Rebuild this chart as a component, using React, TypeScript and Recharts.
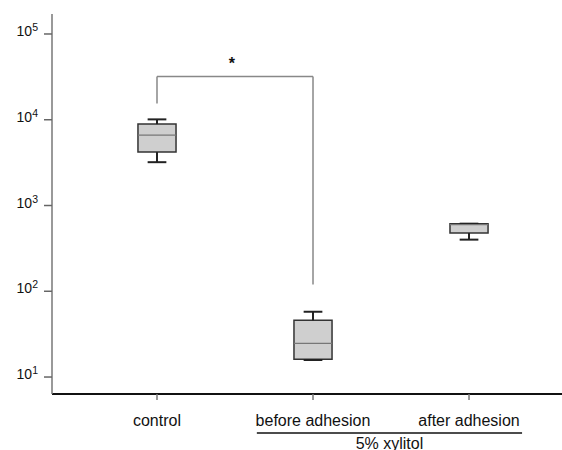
import {
  ComposedChart,
  XAxis,
  YAxis,
  ReferenceArea,
  ReferenceLine,
  ReferenceDot,
} from 'recharts';

const categories = ['control', 'before adhesion', 'after adhesion'];
const positions = [1, 2, 3];
const minValues = [3200, 15.8, 400];
const q1Values = [4200, 16.1, 478];
const medianValues = [6600, 24.7, 600];
const q3Values = [8900, 45.8, 614];
const maxValues = [10100, 57.7, 614];

const yTicks = [10, 100, 1000, 10000, 100000];

// significance bracket control vs before adhesion
const bracketLeftBottom = 15500;
const bracketTop = 32000;
const bracketRightBottom = 120;
const starPosition = { x: 1.48, y: 45000 };
const starLabel = '*';

// group annotation under the x axis
const groupLabel = '5% xylitol';
const groupSpan = [1.64, 3.34];
const groupLevel = 2.22;

const xDomain = [0.327, 3.596];
const yDomain = [6.34, 171000];

const boxHalf = 0.122;
const capHalf = 0.06;
const FONT = 'Arial, "Liberation Sans", sans-serif';

const YTick = ({ x, y, payload }: any) => {
  const exp = Math.round(Math.log10(payload.value));
  return (
    <text x={x - 4} y={y + 2} textAnchor="end" fontSize={14} fill="#111" fontFamily={FONT}>
      10
      <tspan dy={-5} fontSize={10.5}>{exp}</tspan>
    </text>
  );
};

const XTick = ({ x, y, payload }: any) => {
  const idx = positions.indexOf(payload.value);
  return (
    <text x={x} y={y + 24} textAnchor="middle" fontSize={16} fill="#111" fontFamily={FONT}>
      {categories[idx]}
    </text>
  );
};

export default function App() {
  return (
    <div style={{ position: 'absolute', left: 0, top: 0, width: 562, height: 450, background: '#fff' }}>
      <ComposedChart
        width={562}
        height={450}
        margin={{ top: 14, right: 0, left: 0, bottom: 0 }}
        style={{ fontFamily: FONT }}
      >
        <XAxis
          xAxisId="top"
          orientation="top"
          type="number"
          domain={xDomain}
          allowDataOverflow
          height={0}
          tick={false}
          tickLine={false}
          axisLine={{ stroke: '#111', strokeWidth: 2 }}
        />
        <XAxis
          dataKey="x"
          type="number"
          domain={xDomain}
          allowDataOverflow
          ticks={positions}
          height={56}
          tickSize={6}
          tick={<XTick />}
          tickLine={{ stroke: '#777', strokeWidth: 1.5 }}
          axisLine={{ stroke: '#111', strokeWidth: 2 }}
        />
        <YAxis
          scale="log"
          type="number"
          domain={yDomain}
          allowDataOverflow
          ticks={yTicks}
          width={52}
          tickSize={8}
          tick={<YTick />}
          tickLine={{ stroke: '#666', strokeWidth: 1.5 }}
          axisLine={{ stroke: '#777', strokeWidth: 1.5 }}
        />

        {/* bracket */}
        <ReferenceLine
          segment={[{ x: positions[0], y: bracketLeftBottom }, { x: positions[0], y: bracketTop }]}
          stroke="#888"
          strokeWidth={1.5}
        />
        <ReferenceLine
          segment={[{ x: positions[0], y: bracketTop }, { x: positions[1], y: bracketTop }]}
          stroke="#888"
          strokeWidth={1.5}
        />
        <ReferenceLine
          segment={[{ x: positions[1], y: bracketTop }, { x: positions[1], y: bracketRightBottom }]}
          stroke="#888"
          strokeWidth={1.5}
        />
        <ReferenceDot
          x={starPosition.x}
          y={starPosition.y}
          r={0}
          fill="none"
          stroke="none"
          label={{ value: starLabel, position: 'center', fontSize: 16, fontWeight: 'bold', fill: '#111' }}
        />

        {/* whiskers */}
        {positions.map((p, i) => [
          <ReferenceLine
            key={`wu${i}`}
            segment={[{ x: p, y: q3Values[i] }, { x: p, y: maxValues[i] }]}
            stroke="#222"
            strokeWidth={2}
          />,
          <ReferenceLine
            key={`wl${i}`}
            segment={[{ x: p, y: q1Values[i] }, { x: p, y: minValues[i] }]}
            stroke="#222"
            strokeWidth={2}
          />,
          <ReferenceLine
            key={`cu${i}`}
            segment={[{ x: p - capHalf, y: maxValues[i] }, { x: p + capHalf, y: maxValues[i] }]}
            stroke="#222"
            strokeWidth={2}
          />,
          <ReferenceLine
            key={`cl${i}`}
            segment={[{ x: p - capHalf, y: minValues[i] }, { x: p + capHalf, y: minValues[i] }]}
            stroke="#222"
            strokeWidth={2}
          />,
        ])}

        {/* boxes */}
        {positions.map((p, i) => (
          <ReferenceArea
            key={`b${i}`}
            x1={p - boxHalf}
            x2={p + boxHalf}
            y1={q1Values[i]}
            y2={q3Values[i]}
            fill="#cfcfcf"
            fillOpacity={1}
            stroke="#333"
            strokeWidth={1.5}
          />
        ))}
        {positions.map((p, i) => (
          <ReferenceLine
            key={`m${i}`}
            segment={[{ x: p - boxHalf, y: medianValues[i] }, { x: p + boxHalf, y: medianValues[i] }]}
            stroke="#777"
            strokeWidth={1.2}
          />
        ))}

        {/* group annotation */}
        <ReferenceLine
          segment={[{ x: groupSpan[0], y: groupLevel }, { x: groupSpan[1], y: groupLevel }]}
          ifOverflow="visible"
          stroke="#111"
          strokeWidth={1.5}
          label={{ value: groupLabel, position: 'bottom', offset: 5, fontSize: 16, fill: '#111' }}
        />
      </ComposedChart>
    </div>
  );
}
